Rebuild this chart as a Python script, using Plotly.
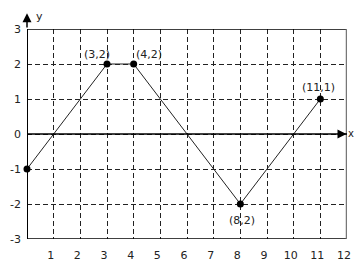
import plotly.graph_objects as go

xs = [0, 3, 4, 8, 11]
ys = [-1, 2, 2, -2, 1]
point_labels = ["", "(3,2)", "(4,2)", "(8,2)", "(11,1)"]
label_pos = ["", "top left", "top right", "bottom center", "top center"]
x_ticks = list(range(1, 13))
y_ticks = list(range(-3, 4))

FONT = "DejaVu Sans"
TXT = "#222222"

fig = go.Figure()
fig.add_trace(go.Scatter(x=xs, y=ys, mode="lines", line=dict(color="#222", width=1),
                         hoverinfo="skip", showlegend=False, cliponaxis=False))
fig.add_trace(go.Scatter(x=xs, y=ys, mode="markers", marker=dict(color="black", size=7),
                         hoverinfo="skip", showlegend=False, cliponaxis=False))

offsets = {"top left": (-10, -10), "top right": (15, -10), "bottom center": (2, 16), "top center": (-2, -12)}
for x, y, t, p in zip(xs, ys, point_labels, label_pos):
    if not t:
        continue
    dx, dy = offsets[p]
    fig.add_annotation(x=x, y=y, text=t, showarrow=False, xshift=dx, yshift=-dy,
                       font=dict(family=FONT, size=11, color=TXT))

# border lines
fig.add_shape(type="line", x0=0, x1=12, y0=3, y1=3, line=dict(color="black", width=1.5), layer="above")
fig.add_shape(type="line", x0=0, x1=12, y0=-3, y1=-3, line=dict(color="black", width=1.5), layer="above")
fig.add_shape(type="line", x0=12, x1=12, y0=-3, y1=3, line=dict(color="#777", width=2.5), layer="above")
fig.add_shape(type="line", x0=0, x1=0, y0=-3, y1=3, line=dict(color="black", width=2), layer="above")
fig.add_shape(type="line", x0=0, x1=12, y0=0, y1=0, line=dict(color="black", width=1.5), layer="above")

# axis arrows
fig.add_annotation(x=11.98, y=0, ax=11.6, ay=0, xref="x", yref="y", axref="x", ayref="y",
                   showarrow=True, arrowhead=2, arrowsize=1.2, arrowwidth=1.5, arrowcolor="black", text="")
fig.add_annotation(x=0, y=3.45, ax=0, ay=3.0, xref="x", yref="y", axref="x", ayref="y",
                   showarrow=True, arrowhead=2, arrowsize=1.2, arrowwidth=1.5, arrowcolor="black", text="")
fig.add_annotation(x=12, y=0, text="x", showarrow=False, xanchor="left", xshift=-1, yshift=1,
                   font=dict(family=FONT, size=10, color=TXT))
fig.add_annotation(x=0, y=3, text="y", showarrow=False, xshift=12, yshift=13,
                   font=dict(family=FONT, size=11, color=TXT))

fig.update_layout(
    width=354, height=262,
    margin=dict(l=27, r=7, t=29, b=23, autoexpand=False),
    paper_bgcolor="white", plot_bgcolor="white",
    font=dict(family=FONT, size=11, color=TXT),
    xaxis=dict(range=[0, 12], tickvals=x_ticks, ticktext=[str(v) for v in x_ticks],
               showgrid=True, gridcolor="#222", gridwidth=1, griddash="5px,3px",
               zeroline=False, showline=False, ticks="", ticklabelstandoff=8,
               ticklabelshift=-3, automargin=False, fixedrange=True),
    yaxis=dict(range=[-3, 3], tickvals=y_ticks, ticktext=[str(v) for v in y_ticks],
               showgrid=True, gridcolor="#222", gridwidth=1, griddash="5px,3px",
               zeroline=False, showline=False, ticks="", ticklabelstandoff=5,
               automargin=False, fixedrange=True),
)

fig.write_html("out.html")
